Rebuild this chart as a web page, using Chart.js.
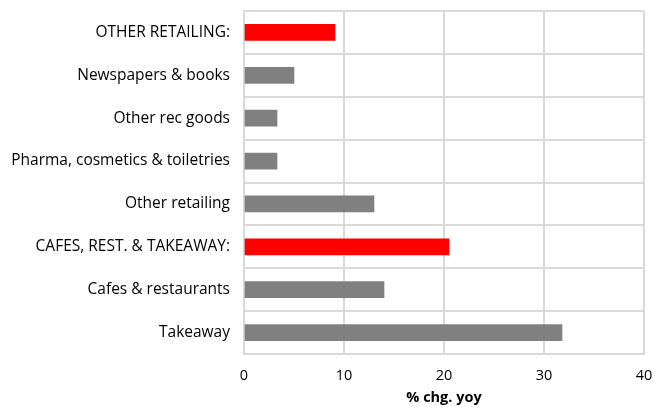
<!DOCTYPE html>
<html lang="en">
<head>
  <meta charset="UTF-8" />
  <title>% chg. yoy</title>
  <script src="https://cdn.jsdelivr.net/npm/chart.js"></script>
  <style>
    html, body { margin: 0; padding: 0; background: #fff; }
    .chart-container { position: relative; width: 653px; height: 407px; }
  </style>
</head>
<body>
  <div class="chart-container">
    <canvas id="yoyChart"></canvas>
  </div>

  <script>
    // Categories, top to bottom
    const categories = [
      'OTHER RETAILING:',
      'Newspapers & books',
      'Other rec goods',
      'Pharma, cosmetics & toiletries',
      'Other retailing',
      'CAFES, REST. & TAKEAWAY:',
      'Cafes & restaurants',
      'Takeaway'
    ];
    const yoyValues = [9.1, 5.0, 3.3, 3.3, 13.0, 20.5, 14.0, 31.8];
    // Sector totals are red, sub-categories grey
    const isTotal = [true, false, false, false, false, true, false, false];

    const gridColor = '#d9d9d9';

    new Chart(document.getElementById('yoyChart'), {
      type: 'bar',
      data: {
        labels: categories,
        datasets: [{
          data: yoyValues,
          backgroundColor: isTotal.map(t => t ? '#ff0000' : '#808080'),
          barThickness: 16
        }]
      },
      options: {
        indexAxis: 'y',
        responsive: true,
        maintainAspectRatio: false,
        animation: false,
        layout: { padding: { top: 11, right: 9, bottom: 0, left: 8 } },
        plugins: {
          legend: { display: false },
          tooltip: { enabled: false }
        },
        scales: {
          x: {
            min: 0,
            max: 40,
            // fixed axis band; end labels may overhang the plot
            afterFit: (axis) => {
              axis.height = 53;
              axis.paddingLeft = 0;
              axis.paddingRight = 0;
            },
            ticks: {
              stepSize: 10,
              color: '#000',
              padding: 13,
              font: { family: 'Open Sans', size: 14.5 }
            },
            grid: { color: gridColor, lineWidth: 2, drawTicks: false },
            border: { color: gridColor, width: 2 },
            title: {
              display: true,
              text: '% chg. yoy',
              color: '#000',
              padding: { top: 5, bottom: 0 },
              font: { family: 'Open Sans', size: 14.5, weight: 'bold' }
            }
          },
          y: {
            afterFit: (axis) => {
              axis.width = 236;
              axis.paddingTop = 0;
              axis.paddingBottom = 0;
            },
            ticks: {
              color: '#000',
              padding: 14,
              font: { family: 'Open Sans', size: 15.5 }
            },
            grid: { color: gridColor, lineWidth: 2, drawTicks: false, offset: true },
            border: { color: gridColor, width: 2 }
          }
        }
      }
    });
  </script>
</body>
</html>
